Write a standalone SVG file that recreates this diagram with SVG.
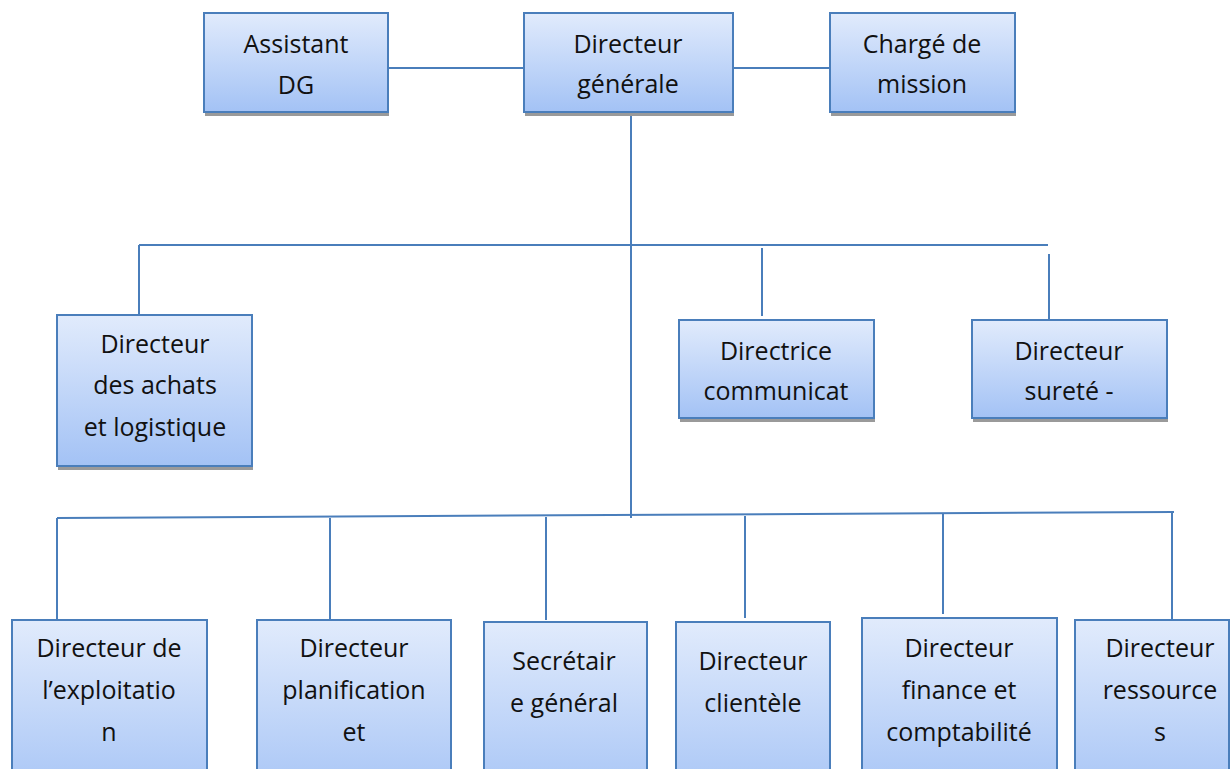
<svg xmlns="http://www.w3.org/2000/svg" width="1231" height="769" viewBox="0 0 1231 769">
<defs>
<linearGradient id="g" x1="0" y1="0" x2="0" y2="1">
<stop offset="0" stop-color="#E1EBFC"/>
<stop offset="1" stop-color="#A3C2F5"/>
</linearGradient>
<linearGradient id="gt" x1="0" y1="0" x2="0" y2="1">
<stop offset="0" stop-color="#E1EBFC"/>
<stop offset="1" stop-color="#A9C6F6"/>
</linearGradient>
</defs>
<style>
.box{fill:url(#g);stroke:#4A7EBB;stroke-width:2}
.boxt{fill:url(#gt);stroke:#4A7EBB;stroke-width:2}
.sh{fill:#9A9A9A}
.t{font-family:"Open Sans","Liberation Sans",sans-serif;font-size:25px;fill:#111;text-anchor:middle}
.c{stroke:#4A7EBB;stroke-width:2;fill:none}
</style>
<rect width="1231" height="769" fill="#fff"/>
<g id="connectors">
<path class="c" d="M388,68 H524"/>
<path class="c" d="M733,68 H830"/>
<path class="c" d="M631,112 V518"/>
<path class="c" d="M139,245 H1048"/>
<path class="c" d="M139,245 V314"/>
<path class="c" d="M762,248 V316"/>
<path class="c" d="M1049,254 V320"/>
<path class="c" d="M57,518 L1174,512"/>
<path class="c" d="M57,518 V620"/>
<path class="c" d="M330,518 V621"/>
<path class="c" d="M546,517 V620"/>
<path class="c" d="M745,516 V618"/>
<path class="c" d="M943,514 V614"/>
<path class="c" d="M1172,513 V619"/>
</g>
<g id="n-assistant">
<rect class="sh" x="205" y="15" width="184" height="101"/>
<rect class="box" x="204" y="13" width="184" height="99"/>
<text class="t" x="296" y="53">Assistant</text>
<text class="t" x="296" y="94">DG</text>
</g>
<g id="n-dg">
<rect class="sh" x="525" y="15" width="209" height="101"/>
<rect class="box" x="524" y="13" width="209" height="99"/>
<text class="t" x="628" y="53">Directeur</text>
<text class="t" x="628" y="93">générale</text>
</g>
<g id="n-charge">
<rect class="sh" x="831" y="15" width="185" height="101"/>
<rect class="box" x="830" y="13" width="185" height="99"/>
<text class="t" x="922" y="53">Chargé de</text>
<text class="t" x="922" y="93">mission</text>
</g>
<g id="n-achats">
<rect class="sh" x="58" y="317" width="195" height="153"/>
<rect class="box" x="57" y="315" width="195" height="151"/>
<text class="t" x="155" y="353">Directeur</text>
<text class="t" x="155" y="394">des achats</text>
<text class="t" x="155" y="436">et logistique</text>
</g>
<g id="n-communication">
<rect class="sh" x="680" y="322" width="195" height="100"/>
<rect class="box" x="679" y="320" width="195" height="98"/>
<text class="t" x="776" y="360">Directrice</text>
<text class="t" x="776" y="400">communicat</text>
</g>
<g id="n-surete">
<rect class="sh" x="973" y="322" width="195" height="100"/>
<rect class="box" x="972" y="320" width="195" height="98"/>
<text class="t" x="1069" y="360">Directeur</text>
<text class="t" x="1069" y="400">sureté -</text>
</g>
<g id="n-exploitation">
<rect class="boxt" x="12" y="620" width="195" height="170"/>
<text class="t" x="109" y="657">Directeur de</text>
<text class="t" x="109" y="699">l’exploitatio</text>
<text class="t" x="109" y="741">n</text>
</g>
<g id="n-planification">
<rect class="boxt" x="257" y="620" width="194" height="170"/>
<text class="t" x="354" y="657">Directeur</text>
<text class="t" x="354" y="699">planification</text>
<text class="t" x="354" y="741">et</text>
</g>
<g id="n-secretaire">
<rect class="boxt" x="484" y="622" width="163" height="170"/>
<text class="t" x="564" y="670">Secrétair</text>
<text class="t" x="564" y="712">e général</text>
</g>
<g id="n-clientele">
<rect class="boxt" x="676" y="622" width="154" height="170"/>
<text class="t" x="753" y="670">Directeur</text>
<text class="t" x="753" y="712">clientèle</text>
</g>
<g id="n-finance">
<rect class="boxt" x="862" y="618" width="195" height="170"/>
<text class="t" x="959" y="657">Directeur</text>
<text class="t" x="959" y="699">finance et</text>
<text class="t" x="959" y="741">comptabilité</text>
</g>
<g id="n-ressources">
<rect class="boxt" x="1075" y="620" width="154" height="170"/>
<text class="t" x="1160" y="657">Directeur</text>
<text class="t" x="1160" y="699">ressource</text>
<text class="t" x="1160" y="741">s</text>
</g>
</svg>
